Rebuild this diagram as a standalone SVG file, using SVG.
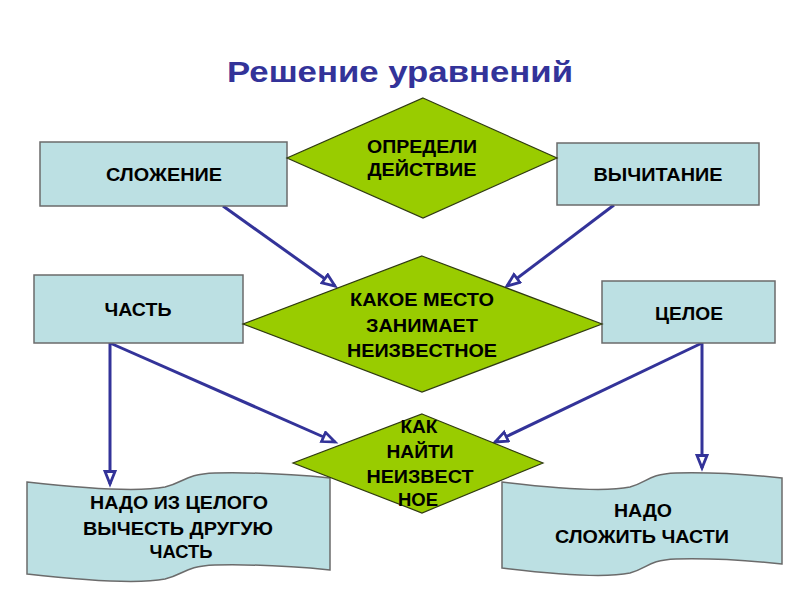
<svg xmlns="http://www.w3.org/2000/svg" width="800" height="600" viewBox="0 0 800 600">
<defs>
<style>
.box{fill:#BCE0E3;stroke:#6b6b6b;stroke-width:1.5}
.dia{fill:#99CC00;stroke:#2f3a10;stroke-width:1.2}
.scroll{fill:#BCE0E3;stroke:#6b6b6b;stroke-width:1.5}
.lbl{font-family:"Liberation Sans",Arial,sans-serif;font-weight:bold;font-size:18px;fill:#000;text-anchor:middle}
.title{font-family:"Liberation Sans",Arial,sans-serif;font-weight:bold;font-size:30px;fill:#333399;text-anchor:middle}
.con{stroke:#333399;stroke-width:3;fill:none;marker-end:url(#arr)}
</style>
<marker id="arr" markerUnits="userSpaceOnUse" markerWidth="20" markerHeight="16" refX="14" refY="6.5" orient="auto">
<path d="M1.5,1.5 L14,6.5 L1.5,11.5 Z" fill="#ffffff" stroke="#333399" stroke-width="2.8" stroke-linejoin="miter"/>
</marker>
</defs>
<rect width="800" height="600" fill="#ffffff"/>
<text class="title" x="400" y="82" textLength="346" lengthAdjust="spacingAndGlyphs">Решение уравнений</text>

<g id="connectors">
<line class="con" x1="223" y1="206" x2="335" y2="286"/>
<line class="con" x1="614" y1="205" x2="507" y2="286"/>
<line class="con" x1="110" y1="343" x2="110" y2="484"/>
<line class="con" x1="110" y1="343" x2="335" y2="442"/>
<line class="con" x1="702" y1="343" x2="495" y2="442"/>
<line class="con" x1="702" y1="343" x2="702" y2="468"/>
</g>

<g id="node-slozhenie">
<rect class="box" x="40" y="142" width="247" height="64"/>
<text class="lbl" x="164" y="181" textLength="116" lengthAdjust="spacingAndGlyphs">СЛОЖЕНИЕ</text>
</g>
<g id="node-vychitanie">
<rect class="box" x="557" y="143" width="202" height="62"/>
<text class="lbl" x="658" y="181" textLength="129" lengthAdjust="spacingAndGlyphs">ВЫЧИТАНИЕ</text>
</g>
<g id="node-opredeli">
<polygon class="dia" points="423,98 557,158 423,218 287,158"/>
<text class="lbl" x="422" y="153" textLength="110" lengthAdjust="spacingAndGlyphs">ОПРЕДЕЛИ</text>
<text class="lbl" x="422" y="176" textLength="109" lengthAdjust="spacingAndGlyphs">ДЕЙСТВИЕ</text>
</g>
<g id="node-chast">
<rect class="box" x="34" y="275" width="209" height="68"/>
<text class="lbl" x="138" y="316" textLength="67" lengthAdjust="spacingAndGlyphs">ЧАСТЬ</text>
</g>
<g id="node-celoe">
<rect class="box" x="602" y="281" width="173" height="62"/>
<text class="lbl" x="689" y="320" textLength="68" lengthAdjust="spacingAndGlyphs">ЦЕЛОЕ</text>
</g>
<g id="node-kakoe-mesto">
<polygon class="dia" points="422,256 602,324 422,392 243,324"/>
<text class="lbl" x="422" y="306" textLength="144" lengthAdjust="spacingAndGlyphs">КАКОЕ МЕСТО</text>
<text class="lbl" x="422" y="332" textLength="112" lengthAdjust="spacingAndGlyphs">ЗАНИМАЕТ</text>
<text class="lbl" x="422" y="357" textLength="150" lengthAdjust="spacingAndGlyphs">НЕИЗВЕСТНОЕ</text>
</g>
<g id="node-vychest">
<path class="scroll" d="M27,482 C80,488 140,492 165,487 C185,482 185,474 215,473 C260,472 300,475 330,478 L330,570 C300,567 260,564 215,565 C185,566 185,574 165,579 C140,584 80,580 27,574 Z"/>
<text class="lbl" x="179" y="509" textLength="178" lengthAdjust="spacingAndGlyphs">НАДО ИЗ ЦЕЛОГО</text>
<text class="lbl" x="178" y="535" textLength="190" lengthAdjust="spacingAndGlyphs">ВЫЧЕСТЬ ДРУГУЮ</text>
<text class="lbl" x="181" y="558" textLength="63" lengthAdjust="spacingAndGlyphs">ЧАСТЬ</text>
</g>
<g id="node-slozhit">
<path class="scroll" d="M502,482 C551,488 606,492 630,487 C648,482 648,474 676,473 C717,472 754,475 782,478 L782,564 C754,561 717,558 676,559 C648,560 648,568 630,573 C606,578 551,574 502,568 Z"/>
<text class="lbl" x="643" y="517" textLength="58" lengthAdjust="spacingAndGlyphs">НАДО</text>
<text class="lbl" x="642" y="543" textLength="174" lengthAdjust="spacingAndGlyphs">СЛОЖИТЬ ЧАСТИ</text>
</g>
<g id="node-kak-naiti">
<polygon class="dia" points="422,414 543,463 422,513 293,463"/>
<text class="lbl" x="419" y="433" textLength="37" lengthAdjust="spacingAndGlyphs">КАК</text>
<text class="lbl" x="420" y="458" textLength="67" lengthAdjust="spacingAndGlyphs">НАЙТИ</text>
<text class="lbl" x="420" y="483" textLength="107" lengthAdjust="spacingAndGlyphs">НЕИЗВЕСТ</text>
<text class="lbl" x="418" y="506" textLength="40" lengthAdjust="spacingAndGlyphs">НОЕ</text>
</g>
</svg>
